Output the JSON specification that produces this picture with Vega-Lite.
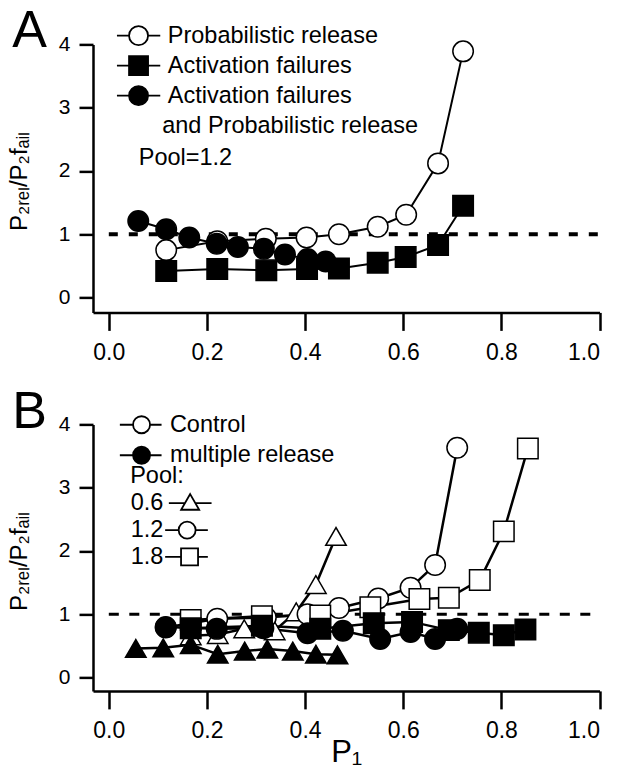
{
  "$schema": "https://vega.github.io/schema/vega-lite/v6.json",
  "autosize": {"type": "pad"},
  "padding": {"left": 7, "top": 4.4, "right": 4, "bottom": 2},
  "bounds": "flush",
  "spacing": 112,
  "resolve": {"scale": {"shape": "independent", "fill": "independent", "stroke": "independent", "x": "independent", "y": "independent"}, "legend": {"shape": "independent", "fill": "independent", "stroke": "independent"}},
  "config": {
    "view": {"stroke": null},
    "font": "Liberation Sans",
    "axis": {
      "grid": false, "domainColor": "black", "domainWidth": 2.5, "tickColor": "black", "tickWidth": 2.5,
      "labelColor": "black", "labelFont": "Liberation Sans", "titleFont": "Liberation Sans",
      "titleColor": "black", "titleFontWeight": "normal"
    },
    "axisX": {"tickSize": 18, "labelFontSize": 23, "labelPadding": 11},
    "axisY": {"tickSize": 14, "labelFontSize": 21, "labelPadding": 9},
    "legend": {
      "labelFont": "Liberation Sans", "labelFontSize": 23.5, "labelColor": "black",
      "titleFont": "Liberation Sans", "titleFontSize": 23.5, "titleFontWeight": "normal", "titleColor": "black",
      "padding": 0, "symbolSize": 4, "labelOffset": 0, "labelLimit": 600, "titleLimit": 600,
      "symbolStrokeWidth": 1.8, "symbolOpacity": 1
    }
  },
  "datasets": {
    "A": [
      {"p1": 0.117, "ratio": 0.75, "series": "Probabilistic release"},
      {"p1": 0.221, "ratio": 0.89, "series": "Probabilistic release"},
      {"p1": 0.320, "ratio": 0.93, "series": "Probabilistic release"},
      {"p1": 0.403, "ratio": 0.95, "series": "Probabilistic release"},
      {"p1": 0.469, "ratio": 1.00, "series": "Probabilistic release"},
      {"p1": 0.548, "ratio": 1.12, "series": "Probabilistic release"},
      {"p1": 0.606, "ratio": 1.31, "series": "Probabilistic release"},
      {"p1": 0.671, "ratio": 2.12, "series": "Probabilistic release"},
      {"p1": 0.722, "ratio": 3.89, "series": "Probabilistic release"},
      {"p1": 0.060, "ratio": 1.21, "series": "Activation failures and Probabilistic release"},
      {"p1": 0.117, "ratio": 1.08, "series": "Activation failures and Probabilistic release"},
      {"p1": 0.164, "ratio": 0.95, "series": "Activation failures and Probabilistic release"},
      {"p1": 0.220, "ratio": 0.85, "series": "Activation failures and Probabilistic release"},
      {"p1": 0.263, "ratio": 0.80, "series": "Activation failures and Probabilistic release"},
      {"p1": 0.316, "ratio": 0.77, "series": "Activation failures and Probabilistic release"},
      {"p1": 0.359, "ratio": 0.68, "series": "Activation failures and Probabilistic release"},
      {"p1": 0.405, "ratio": 0.61, "series": "Activation failures and Probabilistic release"},
      {"p1": 0.442, "ratio": 0.57, "series": "Activation failures and Probabilistic release"},
      {"p1": 0.117, "ratio": 0.42, "series": "Activation failures"},
      {"p1": 0.221, "ratio": 0.45, "series": "Activation failures"},
      {"p1": 0.321, "ratio": 0.43, "series": "Activation failures"},
      {"p1": 0.404, "ratio": 0.45, "series": "Activation failures"},
      {"p1": 0.469, "ratio": 0.46, "series": "Activation failures"},
      {"p1": 0.548, "ratio": 0.55, "series": "Activation failures"},
      {"p1": 0.605, "ratio": 0.64, "series": "Activation failures"},
      {"p1": 0.671, "ratio": 0.83, "series": "Activation failures"},
      {"p1": 0.722, "ratio": 1.45, "series": "Activation failures"}
    ],
    "B": [
      {"p1": 0.167, "ratio": 0.66, "type": "Control", "pool": "0.6"},
      {"p1": 0.222, "ratio": 0.68, "type": "Control", "pool": "0.6"},
      {"p1": 0.276, "ratio": 0.77, "type": "Control", "pool": "0.6"},
      {"p1": 0.338, "ratio": 0.74, "type": "Control", "pool": "0.6"},
      {"p1": 0.382, "ratio": 1.04, "type": "Control", "pool": "0.6"},
      {"p1": 0.422, "ratio": 1.47, "type": "Control", "pool": "0.6"},
      {"p1": 0.463, "ratio": 2.23, "type": "Control", "pool": "0.6"},
      {"p1": 0.055, "ratio": 0.46, "type": "multiple release", "pool": "0.6"},
      {"p1": 0.111, "ratio": 0.47, "type": "multiple release", "pool": "0.6"},
      {"p1": 0.167, "ratio": 0.52, "type": "multiple release", "pool": "0.6"},
      {"p1": 0.222, "ratio": 0.37, "type": "multiple release", "pool": "0.6"},
      {"p1": 0.277, "ratio": 0.42, "type": "multiple release", "pool": "0.6"},
      {"p1": 0.323, "ratio": 0.45, "type": "multiple release", "pool": "0.6"},
      {"p1": 0.375, "ratio": 0.42, "type": "multiple release", "pool": "0.6"},
      {"p1": 0.422, "ratio": 0.37, "type": "multiple release", "pool": "0.6"},
      {"p1": 0.466, "ratio": 0.36, "type": "multiple release", "pool": "0.6"},
      {"p1": 0.116, "ratio": 0.79, "type": "Control", "pool": "1.2"},
      {"p1": 0.221, "ratio": 0.93, "type": "Control", "pool": "1.2"},
      {"p1": 0.320, "ratio": 0.95, "type": "Control", "pool": "1.2"},
      {"p1": 0.405, "ratio": 1.00, "type": "Control", "pool": "1.2"},
      {"p1": 0.469, "ratio": 1.10, "type": "Control", "pool": "1.2"},
      {"p1": 0.549, "ratio": 1.25, "type": "Control", "pool": "1.2"},
      {"p1": 0.615, "ratio": 1.42, "type": "Control", "pool": "1.2"},
      {"p1": 0.665, "ratio": 1.78, "type": "Control", "pool": "1.2"},
      {"p1": 0.710, "ratio": 3.63, "type": "Control", "pool": "1.2"},
      {"p1": 0.116, "ratio": 0.80, "type": "multiple release", "pool": "1.2"},
      {"p1": 0.220, "ratio": 0.77, "type": "multiple release", "pool": "1.2"},
      {"p1": 0.315, "ratio": 0.78, "type": "multiple release", "pool": "1.2"},
      {"p1": 0.405, "ratio": 0.70, "type": "multiple release", "pool": "1.2"},
      {"p1": 0.477, "ratio": 0.74, "type": "multiple release", "pool": "1.2"},
      {"p1": 0.553, "ratio": 0.61, "type": "multiple release", "pool": "1.2"},
      {"p1": 0.615, "ratio": 0.72, "type": "multiple release", "pool": "1.2"},
      {"p1": 0.665, "ratio": 0.61, "type": "multiple release", "pool": "1.2"},
      {"p1": 0.710, "ratio": 0.77, "type": "multiple release", "pool": "1.2"},
      {"p1": 0.167, "ratio": 0.91, "type": "Control", "pool": "1.8"},
      {"p1": 0.312, "ratio": 0.97, "type": "Control", "pool": "1.8"},
      {"p1": 0.431, "ratio": 0.98, "type": "Control", "pool": "1.8"},
      {"p1": 0.533, "ratio": 1.11, "type": "Control", "pool": "1.8"},
      {"p1": 0.633, "ratio": 1.24, "type": "Control", "pool": "1.8"},
      {"p1": 0.693, "ratio": 1.26, "type": "Control", "pool": "1.8"},
      {"p1": 0.756, "ratio": 1.54, "type": "Control", "pool": "1.8"},
      {"p1": 0.805, "ratio": 2.31, "type": "Control", "pool": "1.8"},
      {"p1": 0.854, "ratio": 3.62, "type": "Control", "pool": "1.8"},
      {"p1": 0.167, "ratio": 0.78, "type": "multiple release", "pool": "1.8"},
      {"p1": 0.312, "ratio": 0.82, "type": "multiple release", "pool": "1.8"},
      {"p1": 0.431, "ratio": 0.77, "type": "multiple release", "pool": "1.8"},
      {"p1": 0.540, "ratio": 0.86, "type": "multiple release", "pool": "1.8"},
      {"p1": 0.618, "ratio": 0.88, "type": "multiple release", "pool": "1.8"},
      {"p1": 0.693, "ratio": 0.75, "type": "multiple release", "pool": "1.8"},
      {"p1": 0.754, "ratio": 0.71, "type": "multiple release", "pool": "1.8"},
      {"p1": 0.805, "ratio": 0.67, "type": "multiple release", "pool": "1.8"},
      {"p1": 0.849, "ratio": 0.76, "type": "multiple release", "pool": "1.8"}
    ]
  },
  "vconcat": [
    {
      "width": 506.5,
      "height": 268,
      "resolve": {"scale": {"shape": "independent", "fill": "independent", "stroke": "independent"}, "legend": {"shape": "independent", "fill": "independent", "stroke": "independent"}},
      "layer": [
        {
          "data": {"values": [{}]},
          "mark": {"type": "rule", "strokeDash": [9, 11], "strokeWidth": 4, "color": "black"},
          "encoding": {
            "x": {"datum": 0, "type": "quantitative", "scale": {"domain": [-0.0322, 1], "nice": false, "zero": false},
                  "axis": {"values": [0, 0.2, 0.4, 0.6, 0.8, 1], "format": ".1f", "title": null}},
            "x2": {"datum": 1},
            "y": {"datum": 1, "type": "quantitative", "scale": {"domain": [-0.234, 4], "nice": false, "zero": false},
                  "axis": {"values": [0, 1, 2, 3, 4], "format": "d", "title": "P₂ᵣₑₗ/P₂fₐᵢₗ", "titleX": -66.5, "titleY": 136.5, "titleBaseline": "alphabetic", "titleAlign": "center", "titleAngle": 270, "titleFontSize": 24}}
          }
        },
        {
          "data": {"name": "A"},
          "mark": {"type": "line", "color": "black", "strokeWidth": 2},
          "encoding": {
            "x": {"field": "p1", "type": "quantitative", "scale": {"domain": [-0.0322, 1], "nice": false, "zero": false},
                  "axis": {"values": [0, 0.2, 0.4, 0.6, 0.8, 1], "format": ".1f", "title": null}},
            "y": {"field": "ratio", "type": "quantitative", "scale": {"domain": [-0.234, 4], "nice": false, "zero": false},
                  "axis": {"values": [0, 1, 2, 3, 4], "format": "d", "title": "P₂ᵣₑₗ/P₂fₐᵢₗ", "titleX": -66.5, "titleY": 136.5, "titleBaseline": "alphabetic", "titleAlign": "center", "titleAngle": 270, "titleFontSize": 24}},
            "detail": {"field": "series"}
          }
        },
        {
          "data": {"name": "A"},
          "mark": {"type": "point", "filled": true, "size": 4, "strokeWidth": 1.8, "opacity": 0},
          "encoding": {
            "x": {"field": "p1", "type": "quantitative", "scale": {"domain": [-0.0322, 1], "nice": false, "zero": false},
                  "axis": {"values": [0, 0.2, 0.4, 0.6, 0.8, 1], "format": ".1f", "title": null}},
            "y": {"field": "ratio", "type": "quantitative", "scale": {"domain": [-0.234, 4], "nice": false, "zero": false},
                  "axis": {"values": [0, 1, 2, 3, 4], "format": "d", "title": "P₂ᵣₑₗ/P₂fₐᵢₗ", "titleX": -66.5, "titleY": 136.5, "titleBaseline": "alphabetic", "titleAlign": "center", "titleAngle": 270, "titleFontSize": 24}},
            "shape": {
              "field": "series", "type": "nominal",
              "scale": {"domain": ["Probabilistic release", "Activation failures", "Activation failures and Probabilistic release"],
                        "range": ["M-39.1,0H-27M-8,0H4.2M-27,0A9.5,9.5,0,1,1,-8,0A9.5,9.5,0,1,1,-27,0Z",
                                  "M-39.1,0H-27M-8,0H4.2M-27,-9.5H-8V9.5H-27Z",
                                  "M-39.1,0H-27M-8,0H4.2M-27,0A9.5,9.5,0,1,1,-8,0A9.5,9.5,0,1,1,-27,0Z"]},
              "legend": {
                "title": null, "orient": "none", "legendX": 51.3, "legendY": -20.5, "direction": "vertical", "rowPadding": 3,
                "labelExpr": "datum.label == 'Activation failures and Probabilistic release' ? 'Activation failures' : datum.label"
              }
            },
            "fill": {
              "field": "series", "type": "nominal",
              "scale": {"domain": ["Probabilistic release", "Activation failures", "Activation failures and Probabilistic release"], "range": ["white", "black", "black"]},
              "legend": {
                "title": null, "orient": "none", "legendX": 51.3, "legendY": -20.5, "direction": "vertical", "rowPadding": 3,
                "labelExpr": "datum.label == 'Activation failures and Probabilistic release' ? 'Activation failures' : datum.label"
              }
            },
            "stroke": {
              "field": "series", "type": "nominal",
              "scale": {"domain": ["Probabilistic release", "Activation failures", "Activation failures and Probabilistic release"], "range": ["black", "black", "black"]},
              "legend": {
                "title": null, "orient": "none", "legendX": 51.3, "legendY": -20.5, "direction": "vertical", "rowPadding": 3,
                "labelExpr": "datum.label == 'Activation failures and Probabilistic release' ? 'Activation failures' : datum.label"
              }
            }
          }
        },
        {
          "data": {"name": "A"},
          "mark": {"type": "point", "filled": true, "size": 420, "stroke": "black", "strokeWidth": 1.5, "opacity": 1},
          "encoding": {
            "x": {"field": "p1", "type": "quantitative", "scale": {"domain": [-0.0322, 1], "nice": false, "zero": false},
                  "axis": {"values": [0, 0.2, 0.4, 0.6, 0.8, 1], "format": ".1f", "title": null}},
            "y": {"field": "ratio", "type": "quantitative", "scale": {"domain": [-0.234, 4], "nice": false, "zero": false},
                  "axis": {"values": [0, 1, 2, 3, 4], "format": "d", "title": "P₂ᵣₑₗ/P₂fₐᵢₗ", "titleX": -66.5, "titleY": 136.5, "titleBaseline": "alphabetic", "titleAlign": "center", "titleAngle": 270, "titleFontSize": 24}},
            "shape": {
              "field": "series", "type": "nominal",
              "scale": {"domain": ["Probabilistic release", "Activation failures", "Activation failures and Probabilistic release"], "range": ["circle", "square", "circle"]},
              "legend": null
            },
            "fill": {
              "field": "series", "type": "nominal",
              "scale": {"domain": ["Probabilistic release", "Activation failures", "Activation failures and Probabilistic release"], "range": ["white", "black", "black"]},
              "legend": null
            }
          }
        },
        {
          "data": {"values": [{}]},
          "mark": {"type": "text", "text": "A", "font": "Liberation Sans", "fontSize": 52, "align": "left", "baseline": "alphabetic", "color": "black"},
          "encoding": {
            "x": {"datum": -0.1967, "type": "quantitative", "scale": {"domain": [-0.0322, 1], "nice": false, "zero": false},
                  "axis": {"values": [0, 0.2, 0.4, 0.6, 0.8, 1], "format": ".1f", "title": null}},
            "y": {"datum": 3.96, "type": "quantitative", "scale": {"domain": [-0.234, 4], "nice": false, "zero": false},
                  "axis": {"values": [0, 1, 2, 3, 4], "format": "d", "title": "P₂ᵣₑₗ/P₂fₐᵢₗ", "titleX": -66.5, "titleY": 136.5, "titleBaseline": "alphabetic", "titleAlign": "center", "titleAngle": 270, "titleFontSize": 24}}
          }
        },
        {
          "data": {"values": [{}]},
          "mark": {"type": "text", "text": "and Probabilistic release", "font": "Liberation Sans", "fontSize": 23.5, "align": "left", "baseline": "middle", "color": "black"},
          "encoding": {
            "x": {"datum": 0.1088, "type": "quantitative", "scale": {"domain": [-0.0322, 1], "nice": false, "zero": false},
                  "axis": {"values": [0, 0.2, 0.4, 0.6, 0.8, 1], "format": ".1f", "title": null}},
            "y": {"datum": 2.712, "type": "quantitative", "scale": {"domain": [-0.234, 4], "nice": false, "zero": false},
                  "axis": {"values": [0, 1, 2, 3, 4], "format": "d", "title": "P₂ᵣₑₗ/P₂fₐᵢₗ", "titleX": -66.5, "titleY": 136.5, "titleBaseline": "alphabetic", "titleAlign": "center", "titleAngle": 270, "titleFontSize": 24}}
          }
        },
        {
          "data": {"values": [{}]},
          "mark": {"type": "text", "text": "Pool=1.2", "font": "Liberation Sans", "fontSize": 23.5, "align": "left", "baseline": "middle", "color": "black"},
          "encoding": {
            "x": {"datum": 0.0611, "type": "quantitative", "scale": {"domain": [-0.0322, 1], "nice": false, "zero": false},
                  "axis": {"values": [0, 0.2, 0.4, 0.6, 0.8, 1], "format": ".1f", "title": null}},
            "y": {"datum": 2.21, "type": "quantitative", "scale": {"domain": [-0.234, 4], "nice": false, "zero": false},
                  "axis": {"values": [0, 1, 2, 3, 4], "format": "d", "title": "P₂ᵣₑₗ/P₂fₐᵢₗ", "titleX": -66.5, "titleY": 136.5, "titleBaseline": "alphabetic", "titleAlign": "center", "titleAngle": 270, "titleFontSize": 24}}
          }
        }
      ]
    },
    {
      "width": 506.5,
      "height": 266.5,
      "resolve": {"scale": {"shape": "independent", "fill": "independent", "stroke": "independent"}, "legend": {"shape": "independent", "fill": "independent", "stroke": "independent"}},
      "layer": [
        {
          "data": {"values": [{}]},
          "mark": {"type": "rule", "strokeDash": [10, 10.5], "strokeWidth": 3, "color": "black"},
          "encoding": {
            "x": {"datum": 0, "type": "quantitative", "scale": {"domain": [-0.0322, 1], "nice": false, "zero": false},
                  "axis": {"values": [0, 0.2, 0.4, 0.6, 0.8, 1], "format": ".1f", "title": "P₁", "titleFontSize": 31, "titleY": 70.7, "titleBaseline": "alphabetic"}},
            "x2": {"datum": 1},
            "y": {"datum": 1, "type": "quantitative", "scale": {"domain": [-0.21, 4], "nice": false, "zero": false},
                  "axis": {"values": [0, 1, 2, 3, 4], "format": "d", "title": "P₂ᵣₑₗ/P₂fₐᵢₗ", "titleX": -66.5, "titleY": 136.5, "titleBaseline": "alphabetic", "titleAlign": "center", "titleAngle": 270, "titleFontSize": 24}}
          }
        },
        {
          "data": {"name": "B"},
          "mark": {"type": "line", "color": "black", "strokeWidth": 2.5},
          "encoding": {
            "x": {"field": "p1", "type": "quantitative", "scale": {"domain": [-0.0322, 1], "nice": false, "zero": false},
                  "axis": {"values": [0, 0.2, 0.4, 0.6, 0.8, 1], "format": ".1f", "title": "P₁", "titleFontSize": 31, "titleY": 70.7, "titleBaseline": "alphabetic"}},
            "y": {"field": "ratio", "type": "quantitative", "scale": {"domain": [-0.21, 4], "nice": false, "zero": false},
                  "axis": {"values": [0, 1, 2, 3, 4], "format": "d", "title": "P₂ᵣₑₗ/P₂fₐᵢₗ", "titleX": -66.5, "titleY": 136.5, "titleBaseline": "alphabetic", "titleAlign": "center", "titleAngle": 270, "titleFontSize": 24}},
            "detail": [{"field": "type"}, {"field": "pool"}]
          }
        },
        {
          "data": {"name": "B"},
          "mark": {"type": "point", "filled": true, "size": 4, "strokeWidth": 1.8, "opacity": 0},
          "encoding": {
            "x": {"field": "p1", "type": "quantitative", "scale": {"domain": [-0.0322, 1], "nice": false, "zero": false},
                  "axis": {"values": [0, 0.2, 0.4, 0.6, 0.8, 1], "format": ".1f", "title": "P₁", "titleFontSize": 31, "titleY": 70.7, "titleBaseline": "alphabetic"}},
            "y": {"field": "ratio", "type": "quantitative", "scale": {"domain": [-0.21, 4], "nice": false, "zero": false},
                  "axis": {"values": [0, 1, 2, 3, 4], "format": "d", "title": "P₂ᵣₑₗ/P₂fₐᵢₗ", "titleX": -66.5, "titleY": 136.5, "titleBaseline": "alphabetic", "titleAlign": "center", "titleAngle": 270, "titleFontSize": 24}},
            "shape": {
              "field": "pool", "type": "nominal",
              "scale": {"domain": ["0.6", "1.2", "1.8"],
                        "range": ["M26.9,0H43M53.4,0H69.6M48.2,-9L57.2,6.6H39.2Z",
                                  "M23.2,0H36.7M53.7,0H65.9M36.7,0A8.5,8.5,0,1,1,53.7,0A8.5,8.5,0,1,1,36.7,0Z",
                                  "M23.2,0H39.1M56.1,0H65.9M39.1,-8.5H56.1V8.5H39.1Z"]},
              "legend": {"title": "Pool:", "orient": "none", "legendX": 37.2, "legendY": 40, "direction": "vertical", "rowPadding": 1.9, "titlePadding": 3.5, "titleAnchor": "start", "labelOffset": -23}
            },
            "fill": {
              "field": "pool", "type": "nominal",
              "scale": {"domain": ["0.6", "1.2", "1.8"], "range": ["white", "white", "white"]},
              "legend": {"title": "Pool:", "orient": "none", "legendX": 37.2, "legendY": 40, "direction": "vertical", "rowPadding": 1.9, "titlePadding": 3.5, "titleAnchor": "start", "labelOffset": -23}
            },
            "stroke": {
              "field": "pool", "type": "nominal",
              "scale": {"domain": ["0.6", "1.2", "1.8"], "range": ["black", "black", "black"]},
              "legend": {"title": "Pool:", "orient": "none", "legendX": 37.2, "legendY": 40, "direction": "vertical", "rowPadding": 1.9, "titlePadding": 3.5, "titleAnchor": "start", "labelOffset": -23}
            }
          }
        },
        {
          "data": {"name": "B"},
          "mark": {"type": "point", "filled": true, "size": 420, "stroke": "black", "strokeWidth": 1.5, "opacity": 1},
          "encoding": {
            "x": {"field": "p1", "type": "quantitative", "scale": {"domain": [-0.0322, 1], "nice": false, "zero": false},
                  "axis": {"values": [0, 0.2, 0.4, 0.6, 0.8, 1], "format": ".1f", "title": "P₁", "titleFontSize": 31, "titleY": 70.7, "titleBaseline": "alphabetic"}},
            "y": {"field": "ratio", "type": "quantitative", "scale": {"domain": [-0.21, 4], "nice": false, "zero": false},
                  "axis": {"values": [0, 1, 2, 3, 4], "format": "d", "title": "P₂ᵣₑₗ/P₂fₐᵢₗ", "titleX": -66.5, "titleY": 136.5, "titleBaseline": "alphabetic", "titleAlign": "center", "titleAngle": 270, "titleFontSize": 24}},
            "shape": {
              "field": "pool", "type": "nominal",
              "scale": {"domain": ["0.6", "1.2", "1.8"], "range": ["triangle-up", "circle", "square"]},
              "legend": null
            },
            "fill": {
              "field": "type", "type": "nominal",
              "scale": {"domain": ["Control", "multiple release"], "range": ["white", "black"]},
              "legend": {
                "title": null, "orient": "none", "legendX": 53.4, "legendY": -11.4, "direction": "vertical", "rowPadding": 5.5,
                "symbolType": "M-38.3,0H-25.1M-8.1,0H3.4M-25.1,0A8.5,8.5,0,1,1,-8.1,0A8.5,8.5,0,1,1,-25.1,0Z"
              }
            }
          }
        },
        {
          "data": {"values": [{}]},
          "mark": {"type": "text", "text": "B", "font": "Liberation Sans", "fontSize": 52, "align": "left", "baseline": "alphabetic", "color": "black"},
          "encoding": {
            "x": {"datum": -0.1967, "type": "quantitative", "scale": {"domain": [-0.0322, 1], "nice": false, "zero": false},
                  "axis": {"values": [0, 0.2, 0.4, 0.6, 0.8, 1], "format": ".1f", "title": "P₁", "titleFontSize": 31, "titleY": 70.7, "titleBaseline": "alphabetic"}},
            "y": {"datum": 3.95, "type": "quantitative", "scale": {"domain": [-0.21, 4], "nice": false, "zero": false},
                  "axis": {"values": [0, 1, 2, 3, 4], "format": "d", "title": "P₂ᵣₑₗ/P₂fₐᵢₗ", "titleX": -66.5, "titleY": 136.5, "titleBaseline": "alphabetic", "titleAlign": "center", "titleAngle": 270, "titleFontSize": 24}}
          }
        }
      ]
    }
  ]
}
